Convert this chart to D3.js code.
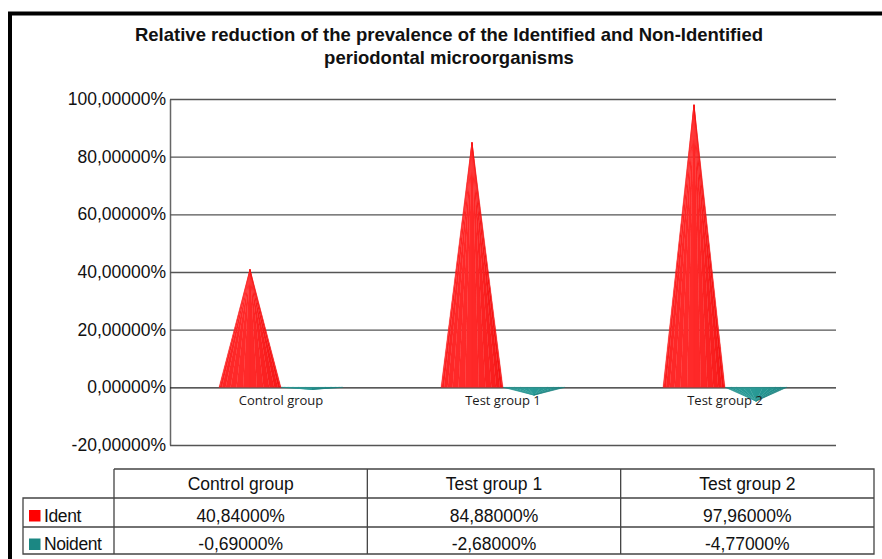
<!DOCTYPE html>
<html>
<head>
<meta charset="utf-8">
<script src="https://cdn.jsdelivr.net/npm/d3@7"></script>
<style>
  body { margin: 0; background: #fff; }
  svg { display: block; }
</style>
</head>
<body>
<div id="chart"></div>
<script>
const categories = ["Control group", "Test group 1", "Test group 2"];
const series = ["Ident", "Noident"];
const ident = [40.84, 84.88, 97.96];
const noident = [-0.69, -2.68, -4.77];
const yTicks = [-20, 0, 20, 40, 60, 80, 100];
const titleLines = ["Relative reduction of the prevalence of the Identified and Non-Identified",
  "periodontal microorganisms"];

const values = {Ident: ident, Noident: noident};
const colors = {
  Ident: {dark: "#ec0000", light: "#ff2a2a"},
  Noident: {dark: "#0f7270", light: "#2a9a96"},
};
const swatch = {Ident: "#ff0000", Noident: "#1b8783"};

const width = 882;
const height = 559;

const locale = d3.formatLocale({decimal: ",", thousands: ".", grouping: [3], currency: ["", ""], minus: "-"});
const fmt = d => locale.format(".5f")(d) + "%";

const svg = d3.select("#chart").append("svg")
  .attr("width", width)
  .attr("height", height)
  .attr("viewBox", [0, 0, width, height]);

svg.append("rect")
  .attr("width", width).attr("height", height).attr("fill", "#fff");

// frame (right and bottom edges run off the picture)
svg.append("rect")
  .attr("x", 10).attr("y", 13.5)
  .attr("width", 900).attr("height", 600)
  .attr("fill", "none").attr("stroke", "#000").attr("stroke-width", 4);

svg.append("g")
  .selectAll("text")
  .data(titleLines)
  .join("text")
    .attr("x", 449)
    .attr("y", (d, i) => 40.5 + i * 23.5)
    .attr("text-anchor", "middle")
    .attr("font-family", "Liberation Sans, Arial, sans-serif")
    .attr("font-weight", "bold")
    .attr("font-size", 18.5)
    .attr("fill", "#111")
    .text(d => d);

const plot = {left: 170, right: 836, top: 99, bottom: 445};

const y = d3.scaleLinear().domain([-20, 100]).range([plot.bottom, plot.top]);
const x0 = d3.scaleBand().domain(categories).range([plot.left, plot.right])
  .paddingInner(0.441).paddingOuter(0.2205);
const x1 = d3.scaleBand().domain(series).range([0, x0.bandwidth()]);

const yAxis = svg.append("g")
  .attr("transform", `translate(${plot.left},0)`)
  .call(d3.axisLeft(y).tickValues(yTicks).tickFormat(fmt)
    .tickSizeInner(-(plot.right - plot.left)).tickSizeOuter(0).tickPadding(4));
yAxis.select(".domain").attr("stroke", "#666").attr("stroke-width", 1.5);
yAxis.selectAll(".tick line").attr("stroke", "#555").attr("stroke-width", 1.4);
yAxis.selectAll(".tick text")
  .attr("font-family", "Liberation Sans, Arial, sans-serif")
  .attr("font-size", 17.5)
  .attr("fill", "#111");
yAxis.selectAll(".tick").filter(d => d === 0).select("line").attr("stroke", "#222");

// cones: each drawn as a fan of facets from the tip to the front half of the base
const facets = 14;
const cones = [];
categories.forEach((c, ci) => {
  series.forEach(s => {
    const v = values[s][ci];
    const bx = x0(c) + x1(s);
    const r = x1.bandwidth() / 2;
    const cx = bx + r;
    for (let k = 0; k < facets; k++) {
      const a0 = Math.PI - Math.PI * k / facets;
      const a1 = Math.PI - Math.PI * (k + 1) / facets;
      const mid = (a0 + a1) / 2;
      const shade = 0.5 + 0.5 * Math.cos(mid - Math.PI * 0.6);
      cones.push({s, v, cx, xa: cx + r * Math.cos(a0), xb: cx + r * Math.cos(a1), shade});
    }
  });
});

svg.append("g")
  .selectAll("path")
  .data(cones)
  .join("path")
    .attr("d", d => `M${d.xa},${y(0)}L${d.cx},${y(d.v)}L${d.xb},${y(0)}Z`)
    .attr("fill", d => d3.interpolateRgb(colors[d.s].dark, colors[d.s].light)(d.shade))
    .attr("stroke", d => d3.interpolateRgb(colors[d.s].dark, colors[d.s].light)(d.shade))
    .attr("stroke-width", 0.3);

svg.append("g")
  .selectAll("text")
  .data(categories)
  .join("text")
    .attr("x", d => x0(d) + x0.bandwidth() / 2)
    .attr("y", y(0) + 18)
    .attr("text-anchor", "middle")
    .attr("font-family", "Open Sans, Noto Sans, sans-serif")
    .attr("font-size", 13)
    .attr("fill", "#1a1a1a")
    .text(d => d);

// data table
const tx = d3.scaleBand().domain(categories).range([114, 874]);
const legendLeft = 23;
const rowEdges = [469, 498, 527, 554];
const table = svg.append("g")
  .attr("stroke", "#444").attr("stroke-width", 1.3).attr("fill", "none");

table.append("path")
  .attr("d", `M${tx.range()[0]},${rowEdges[0]}H${tx.range()[1]}V${rowEdges[3]}H${legendLeft}V${rowEdges[1]}H${tx.range()[1]}`
    + `M${legendLeft},${rowEdges[2]}H${tx.range()[1]}M${tx.range()[0]},${rowEdges[0]}V${rowEdges[3]}`);
table.selectAll(".col")
  .data(categories.slice(1))
  .join("line")
    .attr("x1", d => tx(d)).attr("x2", d => tx(d))
    .attr("y1", rowEdges[0]).attr("y2", rowEdges[3]);

const textStyle = sel => sel
  .attr("font-family", "Liberation Sans, Arial, sans-serif")
  .attr("font-size", 17.5)
  .attr("fill", "#111");

svg.append("g")
  .selectAll("text")
  .data(categories)
  .join("text")
    .attr("x", d => tx(d) + tx.bandwidth() / 2)
    .attr("y", 490)
    .attr("text-anchor", "middle")
    .call(textStyle)
    .text(d => d);

const rowBase = {Ident: 521.5, Noident: 550};
series.forEach(s => {
  const g = svg.append("g");
  g.append("rect")
    .attr("x", 29).attr("y", rowBase[s] - 11.5)
    .attr("width", 11.5).attr("height", 11.5)
    .attr("fill", swatch[s]);
  g.append("text")
    .attr("x", 44).attr("y", rowBase[s])
    .call(textStyle)
    .attr("letter-spacing", -0.4)
    .text(s);
  g.selectAll(".val")
    .data(values[s])
    .join("text")
      .attr("x", (d, i) => tx(categories[i]) + tx.bandwidth() / 2)
      .attr("y", rowBase[s])
      .attr("text-anchor", "middle")
      .call(textStyle)
      .text(d => fmt(d));
});
</script>
</body>
</html>
